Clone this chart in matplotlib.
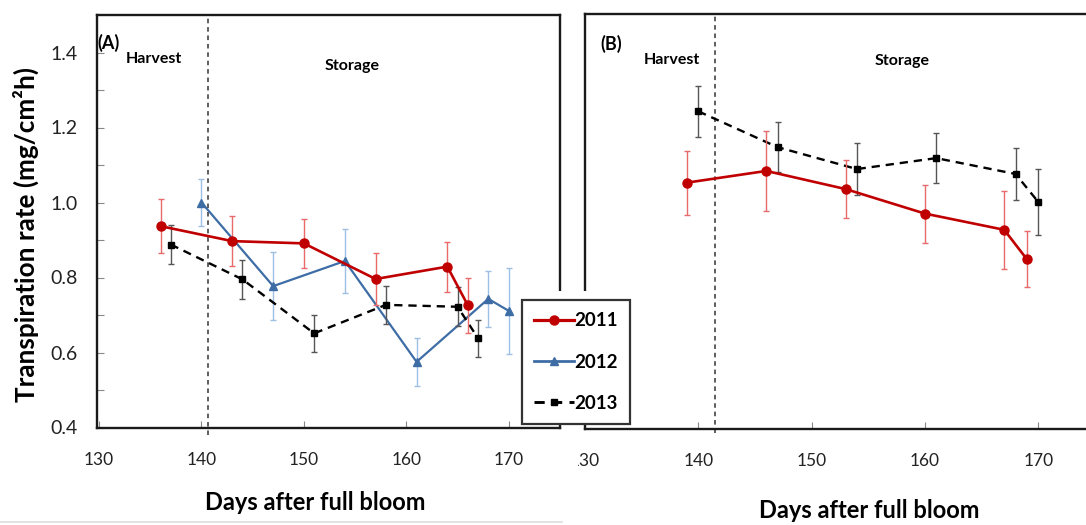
"""Fruit transpiration rate around harvest and during storage, two panels."""

import matplotlib

matplotlib.use("Agg")
import matplotlib.pyplot as plt  # noqa: E402
from matplotlib.lines import Line2D  # noqa: E402
from matplotlib.patches import Rectangle  # noqa: E402
from matplotlib.ticker import FormatStrFormatter  # noqa: E402
from matplotlib.transforms import Bbox, TransformedBbox  # noqa: E402

plt.rcParams["font.family"] = ["Lato", "DejaVu Sans"]

# Panel A: days after full bloom, rate (mg/cm2h) and error
A_2011_DAYS = [136, 143, 150, 157, 164, 166]
A_2011_RATE = [0.937, 0.897, 0.891, 0.796, 0.829, 0.726]
A_2011_ERR = [0.072, 0.067, 0.065, 0.070, 0.067, 0.073]

A_2012_DAYS = [140, 147, 154, 161, 168, 170]
A_2012_RATE = [1.000, 0.777, 0.844, 0.575, 0.743, 0.711]
A_2012_ERR = [0.063, 0.091, 0.086, 0.065, 0.075, 0.114]

A_2013_DAYS = [137, 144, 151, 158, 165, 167]
A_2013_RATE = [0.888, 0.795, 0.651, 0.727, 0.722, 0.638]
A_2013_ERR = [0.051, 0.051, 0.050, 0.051, 0.052, 0.049]

# Panel B
B_2011_DAYS = [139, 146, 153, 160, 167, 169]
B_2011_RATE = [1.053, 1.084, 1.036, 0.971, 0.928, 0.850]
B_2011_ERR = [0.085, 0.105, 0.076, 0.077, 0.103, 0.074]

B_2013_DAYS = [140, 147, 154, 161, 168, 170]
B_2013_RATE = [1.242, 1.147, 1.089, 1.118, 1.076, 1.002]
B_2013_ERR = [0.067, 0.067, 0.068, 0.067, 0.070, 0.088]

YEARS = ["2011", "2012", "2013"]
HARVEST_DAY_A = 140.6
HARVEST_DAY_B = 141.5

X_TICKS = [130, 140, 150, 160, 170]
Y_TICKS = [0.4, 0.6, 0.8, 1.0, 1.2, 1.4]
Y_MINOR = [0.5, 0.7, 0.9, 1.1, 1.3]

W, H = 1086, 525

STYLES = {
    "2011": dict(color="#C00000", ecolor="#E86A6A", marker="o", ms=6.5, lw=1.9, ls="-"),
    "2012": dict(color="#3E6DA6", ecolor="#9DBFE3", marker="^", ms=6.0, lw=1.6, ls="-"),
    "2013": dict(color="black", ecolor="#555555", marker="s", ms=5.0, lw=1.7, ls=(0, (3.5, 2.5))),
}
ZORDER = {"2011": 4, "2012": 3, "2013": 3.5}


def px_axes(fig, left, top, right, bottom):
    return fig.add_axes([left / W, 1 - bottom / H, (right - left) / W, (bottom - top) / H])


def fig_text(fig, x, y, s, **kw):
    return fig.text(x / W, 1 - y / H, s, ha="center", va="center", **kw)


def draw_series(ax, year, days, rate, err):
    s = STYLES[year]
    ax.errorbar(
        days, rate, yerr=err, color=s["color"], ecolor=s["ecolor"], elinewidth=1.0,
        capsize=2.5, capthick=1.0, marker=s["marker"], markersize=s["ms"],
        linewidth=s["lw"], linestyle=s["ls"], label=year, zorder=ZORDER[year],
    )


def style_axes(ax):
    ax.set_ylim(0.4, 1.5)
    ax.set_xticks(X_TICKS)
    for side in ("left", "top", "bottom", "right"):
        ax.spines[side].set_linewidth(1.7)
        ax.spines[side].set_color("#1a1a1a")
    ax.tick_params(axis="both", which="both", direction="in", length=5, width=0.8,
                   color="#888888", labelcolor="#222222")
    ax.tick_params(axis="x", labelsize=12.5, pad=17.5)


fig = plt.figure(figsize=(W / 100, H / 100), dpi=100)

# ---- panel A ----
ax_a = px_axes(fig, 97, 15, 560, 427.5)
draw_series(ax_a, "2012", A_2012_DAYS, A_2012_RATE, A_2012_ERR)
draw_series(ax_a, "2013", A_2013_DAYS, A_2013_RATE, A_2013_ERR)
draw_series(ax_a, "2011", A_2011_DAYS, A_2011_RATE, A_2011_ERR)
ax_a.set_xlim(129.8, 175)
style_axes(ax_a)
ax_a.set_yticks(Y_TICKS)
ax_a.set_yticks(Y_MINOR, minor=True)
ax_a.yaxis.set_major_formatter(FormatStrFormatter("%.1f"))
ax_a.tick_params(axis="y", labelsize=14, pad=14)
ax_a.plot([HARVEST_DAY_A, HARVEST_DAY_A], [0.38, 1.5], color="#333333", lw=1.1,
          ls=(0, (3, 2.5)), clip_on=False, zorder=2)
ax_a.text(129.8, 1.425, "(A)", fontsize=13, fontweight="bold", ha="left", va="center")
ax_a.text(135.35, 1.383, "Harvest", fontsize=11.5, fontweight="bold", ha="center", va="center")
ax_a.text(154.7, 1.364, "Storage", fontsize=11.5, fontweight="bold", ha="center", va="center")

# ---- panel B ----
ax_b = px_axes(fig, 585, 14, 585 + 46 * 11.33, 429)
draw_series(ax_b, "2013", B_2013_DAYS, B_2013_RATE, B_2013_ERR)
draw_series(ax_b, "2011", B_2011_DAYS, B_2011_RATE, B_2011_ERR)
ax_b.set_xlim(130, 176)
style_axes(ax_b)
ax_b.set_yticks([])
ax_b.plot([HARVEST_DAY_B, HARVEST_DAY_B], [0.39, 1.5], color="#333333", lw=1.1,
          ls=(0, (3, 2.5)), clip_on=False, zorder=2)
ax_b.text(131.4, 1.42, "(B)", fontsize=13, fontweight="bold", ha="left", va="center")
ax_b.text(137.7, 1.378, "Harvest", fontsize=11.5, fontweight="bold", ha="center", va="center")
ax_b.text(158.0, 1.375, "Storage", fontsize=11.5, fontweight="bold", ha="center", va="center")

# axis titles
fig_text(fig, 26, 235, "Transpiration rate (mg/cm²h)", fontsize=18.8, fontweight="bold",
         rotation=90)
fig_text(fig, 315, 503, "Days after full bloom", fontsize=17, fontweight="bold")
fig_text(fig, 869, 511, "Days after full bloom", fontsize=17, fontweight="bold")

# blank strip between the panels, under the legend
fig.add_artist(Rectangle((540 / W, 1 - 425 / H), 60 / W, 134 / H,
                         transform=fig.transFigure, facecolor="white",
                         edgecolor="none", zorder=1))
fig.add_artist(Line2D([0, 562 / W], [1 - 521.5 / H] * 2, transform=fig.transFigure,
                      color="#dddddd", lw=1.2))

# legend keys: line and marker only, no error bars
handles = [
    Line2D([], [], color=STYLES[y]["color"], marker=STYLES[y]["marker"],
           markersize=STYLES[y]["ms"], linewidth=STYLES[y]["lw"] + 0.4,
           linestyle=STYLES[y]["ls"])
    for y in YEARS
]
leg = fig.legend(
    handles, YEARS,
    loc="upper left", bbox_to_anchor=(522 / W, 1 - 300 / H), borderaxespad=0,
    frameon=True, fancybox=False, edgecolor="#333333", framealpha=1,
    prop={"weight": "bold", "size": 13.5}, handlelength=2.1, handletextpad=0.05,
    labelspacing=1.3, borderpad=0.65,
)
leg.get_frame().set_linewidth(1.6)
leg.set_zorder(5)

# left part of panel B's first tick label is hidden behind panel A
fig.canvas.draw()
clip = TransformedBbox(Bbox([[578 / W, 0], [1, 1]]), fig.transFigure)
for label in ax_b.get_xticklabels():
    label.set_clip_box(clip)
    label.set_clip_on(True)

fig.savefig("out.png", dpi=100)
